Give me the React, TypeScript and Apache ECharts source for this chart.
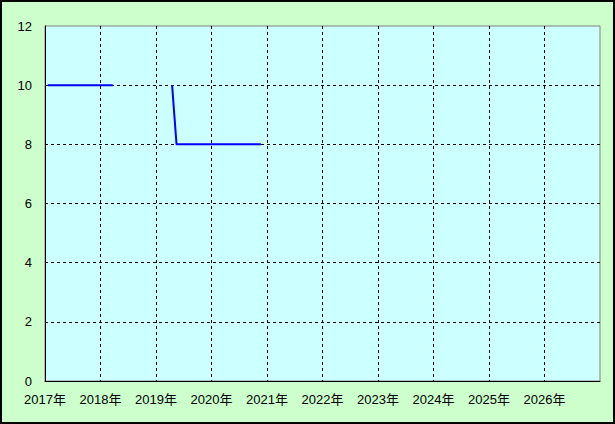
import React, { useEffect, useRef } from "react";
import * as echarts from "echarts";

const xPoints: number[] = [2017.05, 2018.22, 2018.8, 2019.29, 2019.37, 2020.89];
const yValues: (number | null)[] = [10, 10, null, 10, 8, 8];
const yearMin = 2017;
const yearMax = 2027;
const yMin = 0;
const yMax = 12;
const yStep = 2;

export default function App() {
  const ref = useRef<HTMLDivElement>(null);
  useEffect(() => {
    if (!ref.current) return;
    const chart = echarts.init(ref.current, null, { renderer: "svg" });
    const font = "'Liberation Sans', 'Noto Sans CJK JP', sans-serif";
    const split = {
      show: true,
      showMinLine: false,
      showMaxLine: false,
      lineStyle: { color: "#000", type: [3, 3], width: 1 },
    };
    chart.setOption({
      animation: false,
      backgroundColor: "#ccffcc",
      grid: {
        left: 45,
        top: 26,
        right: 15,
        bottom: 43,
        show: true,
        backgroundColor: "#ccffff",
        borderColor: "#808080",
        borderWidth: 1,
      },
      graphic: [
        {
          type: "rect",
          shape: { x: 1, y: 1, width: 613, height: 422 },
          style: { fill: "none", stroke: "#000", lineWidth: 2 },
          silent: true,
        },
      ],
      xAxis: {
        type: "value",
        min: yearMin,
        max: yearMax,
        interval: 1,
        axisLine: { show: true, lineStyle: { color: "#000", width: 1 } },
        axisTick: { show: false },
        splitLine: split,
        axisLabel: {
          color: "#000",
          fontSize: 13,
          fontFamily: font,
          margin: 12,
          showMaxLabel: false,
          formatter: (v: number) => (v >= yearMax ? "" : `${v}年`),
        },
      },
      yAxis: {
        type: "value",
        min: yMin,
        max: yMax,
        interval: yStep,
        axisLine: { show: true, lineStyle: { color: "#000", width: 1 } },
        axisTick: { show: false },
        splitLine: split,
        axisLabel: { color: "#000", fontSize: 13, fontFamily: font, margin: 13 },
      },
      series: [
        {
          type: "line",
          data: xPoints.map((x, i) => [x, yValues[i] === null ? "-" : yValues[i]]),
          symbol: "none",
          connectNulls: false,
          lineStyle: { color: "#0000ff", width: 2 },
        },
      ],
    });
    return () => chart.dispose();
  }, []);
  return (
    <div
      ref={ref}
      style={{ position: "absolute", left: 0, top: 0, width: 615, height: 424 }}
    />
  );
}
